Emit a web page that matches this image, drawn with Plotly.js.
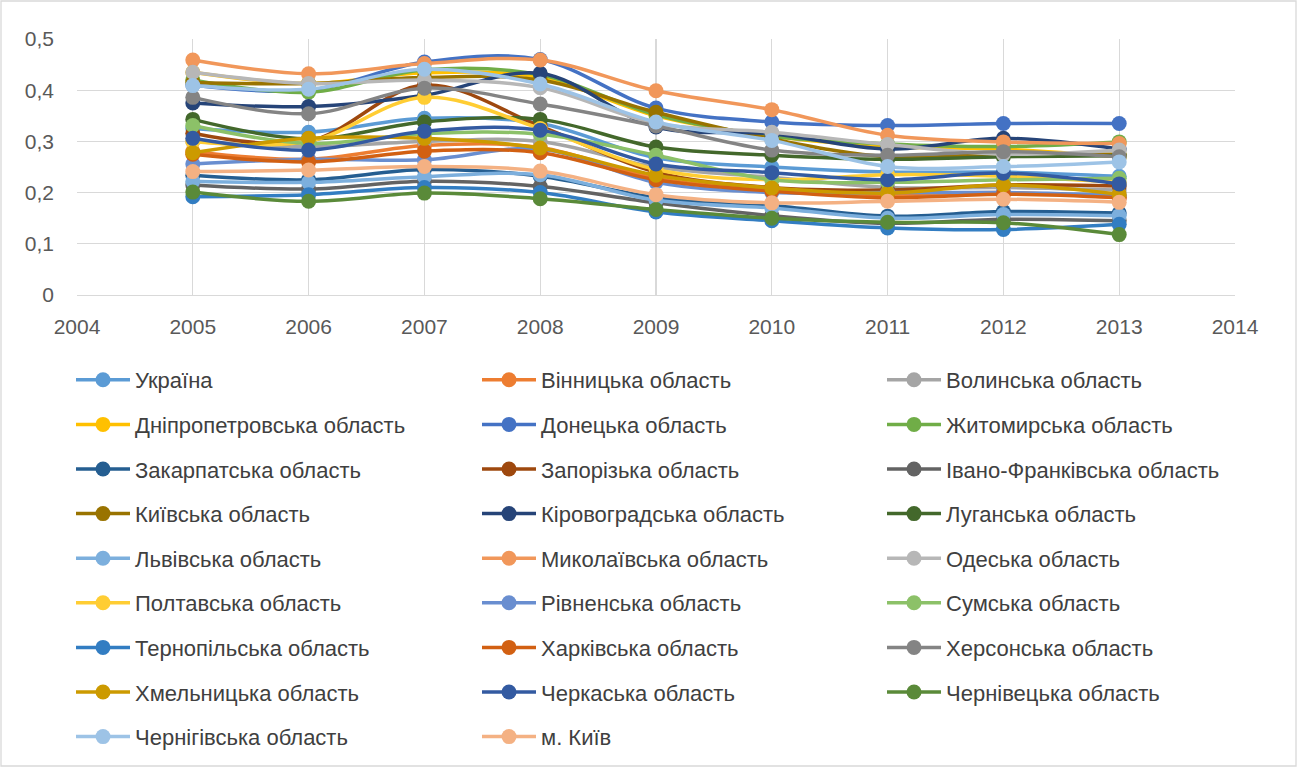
<!DOCTYPE html>
<html>
<head>
<meta charset="utf-8">
<script src="https://cdn.plot.ly/plotly-3.0.1.min.js"></script>
<style>html,body{margin:0;padding:0;background:#fff;overflow:hidden;}#chart{width:1297px;height:767px;}</style>
</head>
<body>
<div id="chart"></div>
<script>
const years = [2005, 2006, 2007, 2008, 2009, 2010, 2011, 2012, 2013];

const seriesNames = [
  "Україна", "Вінницька область", "Волинська область",
  "Дніпропетровська область", "Донецька область", "Житомирська область",
  "Закарпатська область", "Запорізька область", "Івано-Франківська область",
  "Київська область", "Кіровоградська область", "Луганська область",
  "Львівська область", "Миколаївська область", "Одеська область",
  "Полтавська область", "Рівненська область", "Сумська область",
  "Тернопільська область", "Харківська область", "Херсонська область",
  "Хмельницька область", "Черкаська область", "Чернівецька область",
  "Чернігівська область", "м. Київ"
];

const ukraine        = [0.325, 0.318, 0.345, 0.335, 0.268, 0.250, 0.240, 0.240, 0.232];
const vinnytsia      = [0.280, 0.265, 0.292, 0.288, 0.228, 0.205, 0.196, 0.200, 0.190];
const volyn          = [0.300, 0.290, 0.300, 0.300, 0.250, 0.230, 0.210, 0.210, 0.205];
const dnipro         = [0.435, 0.413, 0.434, 0.425, 0.350, 0.310, 0.290, 0.285, 0.270];
const donetsk        = [0.410, 0.400, 0.455, 0.460, 0.365, 0.338, 0.331, 0.335, 0.335];
const zhytomyr       = [0.420, 0.396, 0.440, 0.430, 0.352, 0.310, 0.295, 0.290, 0.299];
const zakarpattia    = [0.234, 0.225, 0.245, 0.232, 0.190, 0.175, 0.154, 0.163, 0.160];
const zaporizhzhia   = [0.316, 0.300, 0.410, 0.330, 0.240, 0.210, 0.205, 0.215, 0.213];
const ivanoFrankivsk = [0.215, 0.207, 0.222, 0.212, 0.180, 0.155, 0.140, 0.148, 0.145];
const kyivOblast     = [0.415, 0.413, 0.425, 0.420, 0.357, 0.305, 0.270, 0.275, 0.275];
const kirovohrad     = [0.375, 0.368, 0.390, 0.433, 0.328, 0.315, 0.285, 0.306, 0.285];
const luhansk        = [0.343, 0.305, 0.338, 0.343, 0.289, 0.273, 0.265, 0.270, 0.272];
const lviv           = [0.222, 0.220, 0.231, 0.235, 0.185, 0.170, 0.150, 0.157, 0.155];
const mykolaiv       = [0.459, 0.432, 0.452, 0.459, 0.399, 0.362, 0.312, 0.299, 0.296];
const odesa          = [0.435, 0.413, 0.420, 0.405, 0.335, 0.318, 0.294, 0.275, 0.283];
const poltava        = [0.300, 0.300, 0.386, 0.325, 0.245, 0.225, 0.235, 0.232, 0.220];
const rivne          = [0.256, 0.265, 0.264, 0.285, 0.220, 0.200, 0.200, 0.200, 0.195];
const sumy           = [0.331, 0.296, 0.315, 0.314, 0.273, 0.225, 0.220, 0.225, 0.228];
const ternopil       = [0.192, 0.196, 0.210, 0.200, 0.162, 0.145, 0.131, 0.128, 0.138];
const kharkiv        = [0.275, 0.260, 0.281, 0.278, 0.225, 0.203, 0.190, 0.197, 0.190];
const kherson        = [0.386, 0.354, 0.404, 0.373, 0.330, 0.283, 0.273, 0.280, 0.270];
const khmelnytskyi   = [0.278, 0.306, 0.306, 0.287, 0.234, 0.209, 0.199, 0.215, 0.197];
const cherkasy       = [0.306, 0.283, 0.320, 0.322, 0.256, 0.239, 0.225, 0.238, 0.217];
const chernivtsi     = [0.201, 0.183, 0.199, 0.188, 0.167, 0.150, 0.142, 0.141, 0.118];
const chernihiv      = [0.409, 0.402, 0.441, 0.412, 0.338, 0.302, 0.251, 0.251, 0.260];
const kyivCity       = [0.241, 0.244, 0.251, 0.242, 0.196, 0.180, 0.183, 0.187, 0.181];

const seriesValues = [ukraine, vinnytsia, volyn, dnipro, donetsk, zhytomyr, zakarpattia,
  zaporizhzhia, ivanoFrankivsk, kyivOblast, kirovohrad, luhansk, lviv, mykolaiv, odesa,
  poltava, rivne, sumy, ternopil, kharkiv, kherson, khmelnytskyi, cherkasy, chernivtsi,
  chernihiv, kyivCity];

const colors = ["#5B9BD5", "#ED7D31", "#A5A5A5", "#FFC000", "#4472C4", "#70AD47",
  "#255E91", "#9E480E", "#636363", "#997300", "#264478", "#43682B", "#7CAFDD",
  "#F1975A", "#B7B7B7", "#FFCD33", "#698ED0", "#8CC168", "#327DC2", "#D26012",
  "#848484", "#CC9A00", "#335AA1", "#5A8A39", "#9DC3E6", "#F4B183"];

const legendIds = ["legend", "legend2", "legend3"];

const traces = seriesNames.map((name, i) => ({
  type: "scatter",
  mode: "lines+markers",
  x: years,
  y: seriesValues[i],
  name: name,
  legend: legendIds[i % 3],
  legendgroup: "g" + i,
  line: {color: colors[i], width: 3.5, shape: "spline", smoothing: 1},
  marker: {color: colors[i], size: 15, symbol: "circle"},
  hoverinfo: "x+y+name"
}));

const W = 1158, H = 256, L = 77, T = 39;
function px2x(p) { return (p - L) / W; }
function px2y(p) { return (T + H - p) / H; }

const FONT = "Liberation Sans, Arial, sans-serif";

function legendAt(xPx) {
  return {
    x: px2x(xPx), y: px2y(359), xanchor: "left", yanchor: "top",
    orientation: "v", traceorder: "grouped", tracegroupgap: 13,
    itemwidth: 54, bgcolor: "rgba(0,0,0,0)", maxheight: 600,
    font: {family: FONT, size: 22, color: "#404040"}
  };
}

const layout = {
  width: 1297, height: 767,
  margin: {l: L, r: 1297 - L - W, t: T, b: 767 - T - H, autoexpand: false},
  paper_bgcolor: "#ffffff", plot_bgcolor: "#ffffff",
  separators: ", ",
  showlegend: true,
  font: {family: FONT, size: 21, color: "#595959"},
  xaxis: {
    range: [2004, 2014], dtick: 1, tick0: 2004,
    showgrid: true, gridcolor: "#D9D9D9", gridwidth: 1.3,
    zeroline: false, showline: true, linecolor: "#D9D9D9", linewidth: 1.3,
    ticks: "", tickfont: {family: FONT, size: 21, color: "#595959"}, ticklabelstandoff: 12
  },
  yaxis: {
    range: [0, 0.5], dtick: 0.1, tick0: 0,
    showgrid: true, gridcolor: "#D9D9D9", gridwidth: 1.3,
    zeroline: false, showline: false,
    ticks: "", tickfont: {family: FONT, size: 21, color: "#595959"}, ticklabelstandoff: 22
  },
  legend: legendAt(71),
  legend2: legendAt(477),
  legend3: legendAt(882),
  shapes: [{
    type: "rect", xref: "paper", yref: "paper",
    x0: px2x(1), x1: px2x(1296), y0: px2y(766), y1: px2y(1),
    line: {color: "#D9D9D9", width: 1.3}, fillcolor: "rgba(0,0,0,0)", layer: "below"
  }]
};

Plotly.newPlot("chart", traces, layout, {displayModeBar: false, staticPlot: true});
</script>
</body>
</html>
